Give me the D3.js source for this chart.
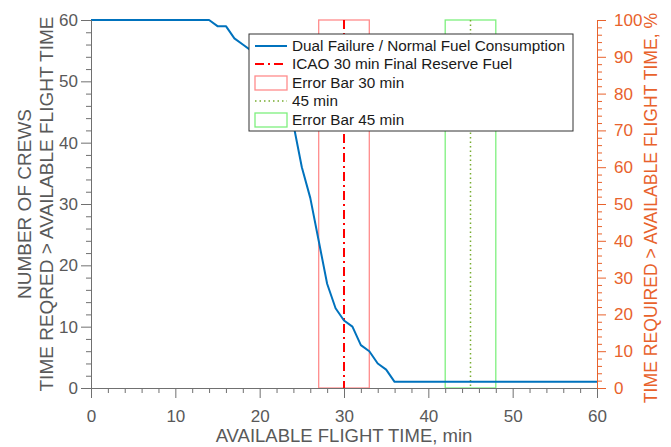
<!DOCTYPE html>
<html lang="en">
<head>
    <meta charset="UTF-8">
    <title>Crews vs available flight time</title>
    <style>
        body {
            margin: 0;
            padding: 0;
            background: white;
        }
        svg text {
            font-family: "Liberation Sans", Arial, sans-serif;
        }
        .axis path, .axis line {
            stroke: #707070;
            stroke-width: 1;
        }
        .axis text {
            fill: #595959;
            font-size: 17px;
        }
        .axis-right path, .axis-right line {
            stroke: #e8622c;
        }
        .axis-right text {
            fill: #e8622c;
        }
        .title {
            fill: #595959;
            font-size: 19px;
        }
    </style>
</head>
<body>
    <div id="chart"></div>

    <script src="https://d3js.org/d3.v7.min.js"></script>
    <script>
        // data
        const minutes = [0, 14, 15, 16, 17, 18, 19, 20, 21, 22, 23, 24, 25, 26, 27, 28, 29, 30, 31, 32, 33, 34, 35, 36, 60];
        const crews   = [60, 60, 59, 59, 57, 56, 55, 53, 50, 48, 45, 43, 36, 31, 24, 17, 13, 11, 10, 7, 6, 4, 3, 1, 1];

        const icaoTime = 30;
        const errorBar30 = [27, 33];
        const time45 = 45;
        const errorBar45 = [42, 48];

        const xTicks = [0, 10, 20, 30, 40, 50, 60];
        const yTicks = [0, 10, 20, 30, 40, 50, 60];
        const pctTicks = [0, 10, 20, 30, 40, 50, 60, 70, 80, 90, 100];

        const legendLabels = [
            "Dual Failure / Normal Fuel Consumption",
            "ICAO 30 min Final Reserve Fuel",
            "Error Bar 30 min",
            "45 min",
            "Error Bar 45 min"
        ];

        const width = 671, height = 447;
        const margin = { top: 20, right: 74, bottom: 59, left: 91 };
        const plotW = width - margin.left - margin.right;
        const plotH = height - margin.top - margin.bottom;

        const svg = d3.select("#chart").append("svg")
            .attr("width", width)
            .attr("height", height);

        const g = svg.append("g")
            .attr("transform", `translate(${margin.left},${margin.top})`);

        const x = d3.scaleLinear().domain([0, 60]).range([0, plotW]);
        const y = d3.scaleLinear().domain([0, 60]).range([plotH, 0]);
        const yPct = d3.scaleLinear().domain([0, 100]).range([plotH, 0]);

        // minor ticks every 2
        const minorX = d3.range(0, 61, 2).filter(v => v % 10 !== 0);
        const minorY = d3.range(0, 61, 2).filter(v => v % 10 !== 0);
        const minorPct = d3.range(0, 101, 2).filter(v => v % 10 !== 0);

        // error bars
        g.append("rect")
            .attr("x", x(errorBar30[0]))
            .attr("y", y(60))
            .attr("width", x(errorBar30[1]) - x(errorBar30[0]))
            .attr("height", y(0) - y(60))
            .attr("fill", "none")
            .attr("stroke", "#ff8c8c")
            .attr("stroke-width", 1.3);

        g.append("rect")
            .attr("x", x(errorBar45[0]))
            .attr("y", y(60))
            .attr("width", x(errorBar45[1]) - x(errorBar45[0]))
            .attr("height", y(0) - y(60))
            .attr("fill", "none")
            .attr("stroke", "#7ef07e")
            .attr("stroke-width", 1.3);

        // vertical reference lines
        g.append("line")
            .attr("x1", x(icaoTime)).attr("x2", x(icaoTime))
            .attr("y1", y(60)).attr("y2", y(0))
            .attr("stroke", "#ff0000")
            .attr("stroke-width", 2)
            .attr("stroke-dasharray", "9,4,2,4");

        g.append("line")
            .attr("x1", x(time45)).attr("x2", x(time45))
            .attr("y1", y(60)).attr("y2", y(0))
            .attr("stroke", "#77ac30")
            .attr("stroke-width", 1.5)
            .attr("stroke-dasharray", "1.5,3");

        // main curve
        const line = d3.line()
            .x((d, i) => x(minutes[i]))
            .y(d => y(d));

        g.append("path")
            .datum(crews)
            .attr("fill", "none")
            .attr("stroke", "#0072bd")
            .attr("stroke-width", 2)
            .attr("stroke-linejoin", "round")
            .attr("d", line);

        // axes
        g.append("g")
            .attr("class", "axis")
            .attr("transform", `translate(0,${plotH})`)
            .call(d3.axisBottom(x).tickValues(minorX).tickSize(5).tickFormat("").tickSizeOuter(0));

        g.append("g")
            .attr("class", "axis")
            .attr("transform", `translate(0,${plotH})`)
            .call(d3.axisBottom(x).tickValues(xTicks).tickSize(10).tickPadding(12).tickSizeOuter(0));

        g.append("g")
            .attr("class", "axis")
            .call(d3.axisLeft(y).tickValues(minorY).tickSize(5).tickFormat("").tickSizeOuter(0));

        g.append("g")
            .attr("class", "axis")
            .call(d3.axisLeft(y).tickValues(yTicks).tickSize(10).tickPadding(3).tickSizeOuter(0));

        g.append("g")
            .attr("class", "axis axis-right")
            .attr("transform", `translate(${plotW},0)`)
            .call(d3.axisRight(yPct).tickValues(minorPct).tickSize(5).tickFormat("").tickSizeOuter(0));

        g.append("g")
            .attr("class", "axis axis-right")
            .attr("transform", `translate(${plotW},0)`)
            .call(d3.axisRight(yPct).tickValues(pctTicks).tickSize(9).tickPadding(8).tickSizeOuter(0));

        // axis titles
        svg.append("text")
            .attr("class", "title")
            .attr("x", margin.left + plotW / 2)
            .attr("y", 442)
            .attr("text-anchor", "middle")
            .style("font-size", "18.5px")
            .text("AVAILABLE FLIGHT TIME, min");

        const leftTitle = svg.append("text")
            .attr("class", "title")
            .attr("transform", `translate(31,${margin.top + plotH / 2}) rotate(-90)`)
            .attr("text-anchor", "middle");
        leftTitle.append("tspan").attr("x", 0).attr("dy", 0).text("NUMBER OF CREWS");
        leftTitle.append("tspan").attr("x", 0).attr("dy", 22).text("TIME REQRED > AVAILABLE FLIGHT TIME");

        svg.append("text")
            .attr("class", "title")
            .attr("transform", `translate(657,${margin.top + plotH / 2 + 4}) rotate(-90)`)
            .attr("text-anchor", "middle")
            .style("fill", "#e8622c")
            .style("font-size", "17.6px")
            .text("TIME REQUIRED > AVAILABLE FLIGHT TIME, %");

        // legend
        const legend = svg.append("g").attr("transform", "translate(249,34)");
        legend.append("rect")
            .attr("width", 324)
            .attr("height", 97)
            .attr("fill", "white")
            .attr("stroke", "#333")
            .attr("stroke-width", 1);

        const rowY = [12, 30, 49, 67, 86];
        const sampleX0 = 6, sampleX1 = 38;

        legendLabels.forEach((label, i) => {
            const ly = rowY[i];
            if (i === 0) {
                legend.append("line").attr("x1", sampleX0).attr("x2", sampleX1).attr("y1", ly).attr("y2", ly)
                    .attr("stroke", "#0072bd").attr("stroke-width", 2);
            } else if (i === 1) {
                legend.append("line").attr("x1", sampleX0).attr("x2", sampleX1).attr("y1", ly).attr("y2", ly)
                    .attr("stroke", "#ff0000").attr("stroke-width", 2).attr("stroke-dasharray", "9,4,2,4");
            } else if (i === 3) {
                legend.append("line").attr("x1", sampleX0).attr("x2", sampleX1).attr("y1", ly).attr("y2", ly)
                    .attr("stroke", "#77ac30").attr("stroke-width", 1.5).attr("stroke-dasharray", "1.5,3");
            } else {
                legend.append("rect").attr("x", sampleX0).attr("y", ly - 7).attr("width", sampleX1 - sampleX0).attr("height", 14)
                    .attr("fill", "none").attr("stroke", i === 2 ? "#ff8c8c" : "#7ef07e").attr("stroke-width", 1.3);
            }
            legend.append("text")
                .attr("x", 43)
                .attr("y", ly)
                .attr("dy", "0.35em")
                .attr("fill", "#1a1a1a")
                .style("font-size", "15.3px")
                .text(label);
        });
    </script>
</body>
</html>
